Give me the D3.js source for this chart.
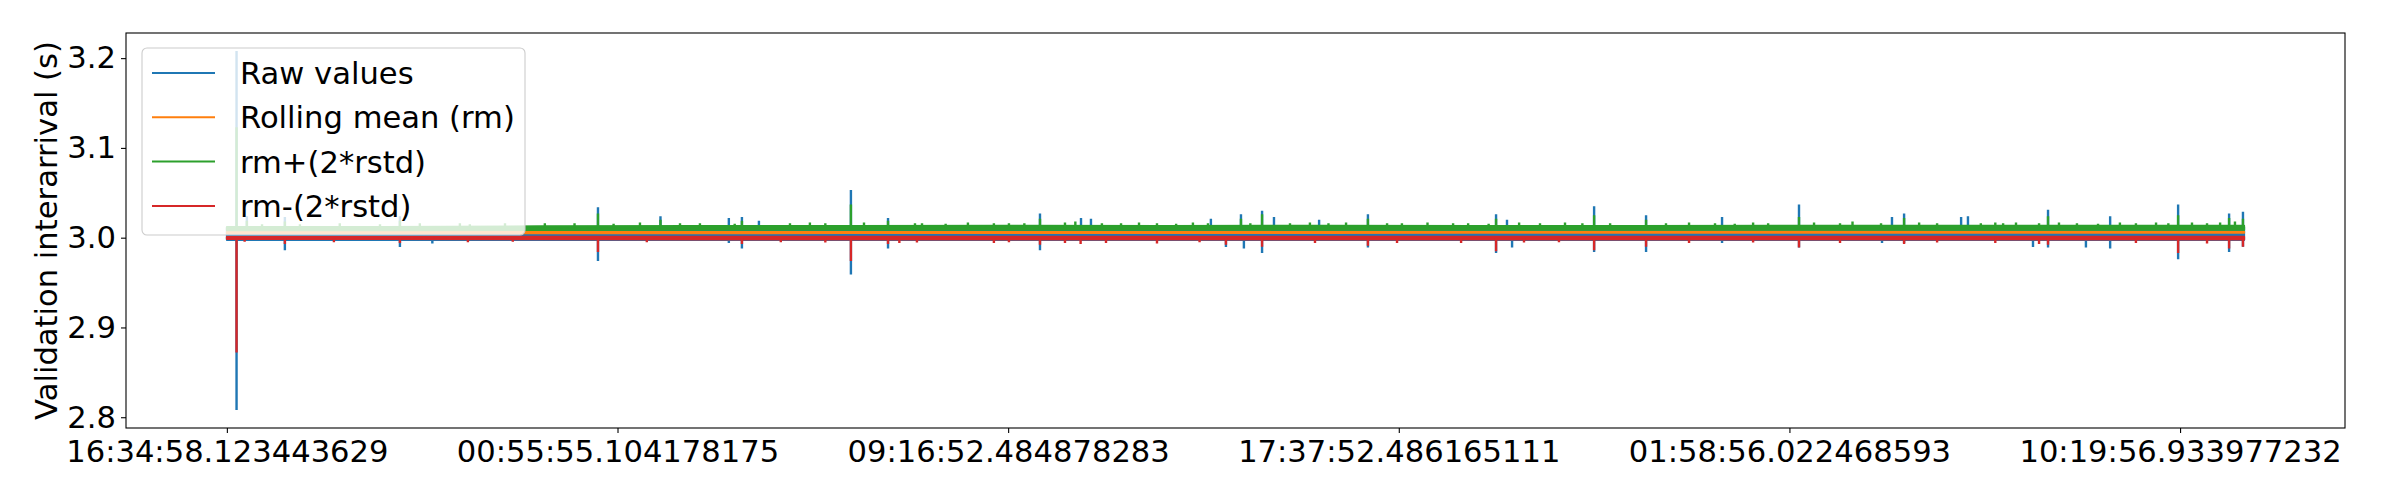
<!DOCTYPE html>
<html>
<head>
<meta charset="utf-8">
<script src="https://cdn.jsdelivr.net/npm/d3@7/dist/d3.min.js"></script>
<style>
body { margin: 0; background: #fff; }
text { font-family: "DejaVu Sans", sans-serif; fill: #000; }
</style>
</head>
<body>
<script>
// x ticks sit on sample index, labelled with the timestamp of that sample
var tickIdx = [0, 10000, 20000, 30000, 40000, 50000];
var tickLabels = ["16:34:58.123443629", "00:55:55.104178175", "09:16:52.484878283",
    "17:37:52.486165111", "01:58:56.022468593", "10:19:56.933977232"];
var yTicks = [2.8, 2.9, 3.0, 3.1, 3.2];
var lastIdx = 51640;

// envelope of each series, read every 4000 samples
var bandIdx = [0, 4000, 8000, 12000, 16000, 20000, 24000, 28000, 32000, 36000, 40000, 44000, 48000, 51640];
var rawLo = [2.9975, 2.9975, 2.9975, 2.9975, 2.9975, 2.9975, 2.9975, 2.9975, 2.9975, 2.9975, 2.9975, 2.9975, 2.9975, 2.9975];
var rawHi = [3.011, 3.011, 3.012, 3.012, 3.012, 3.012, 3.012, 3.012, 3.012, 3.012, 3.012, 3.012, 3.012, 3.012];
var rmLo = [3.0050, 3.0050, 3.0050, 3.0050, 3.0051, 3.0051, 3.0052, 3.0053, 3.0054, 3.0055, 3.0056, 3.0055, 3.0054, 3.0054];
var rmHi = [3.0062, 3.0062, 3.0062, 3.0063, 3.0063, 3.0063, 3.0064, 3.0065, 3.0066, 3.0067, 3.0068, 3.0067, 3.0066, 3.0066];
var upLo = [3.0082, 3.0082, 3.0086, 3.0088, 3.0088, 3.0088, 3.0088, 3.0088, 3.0088, 3.0088, 3.0088, 3.0088, 3.0088, 3.0088];
var upHi = [3.0118, 3.0120, 3.0126, 3.0130, 3.0131, 3.0132, 3.0131, 3.0132, 3.0131, 3.0131, 3.0132, 3.0132, 3.0132, 3.0132];
var lowLo = [2.9984, 2.9984, 2.9982, 2.9980, 2.9979, 2.9979, 2.9979, 2.9979, 2.9979, 2.9979, 2.9979, 2.9979, 2.9979, 2.9979];
var lowHi = [3.0008, 3.0008, 3.0010, 3.0010, 3.0010, 3.0010, 3.0010, 3.0010, 3.0010, 3.0010, 3.0010, 3.0010, 3.0010, 3.0010];

// spikes [sample index, value]
var rawUp = [[248, 3.208], [512, 3.024], [1485, 3.023], [4430, 3.024], [9500, 3.034], [11100, 3.024],
    [12850, 3.022], [13185, 3.023], [13620, 3.019], [15975, 3.053], [16925, 3.022], [20815, 3.027],
    [21865, 3.022], [22120, 3.021], [25190, 3.021], [25960, 3.026], [26500, 3.030], [26805, 3.023],
    [27960, 3.020], [29210, 3.026], [32490, 3.026], [32770, 3.020], [35000, 3.035], [36330, 3.025],
    [38275, 3.023], [40245, 3.037], [42625, 3.023], [42935, 3.027], [44395, 3.023], [44570, 3.024],
    [46620, 3.031], [48210, 3.024], [49950, 3.037], [51255, 3.027], [51610, 3.029]];
var rawDown = [[248, 2.808], [1485, 2.986], [4430, 2.9895], [5260, 2.9935], [9500, 2.974], [12850, 2.994],
    [13185, 2.988], [15975, 2.959], [16925, 2.988], [20815, 2.986], [25575, 2.9895], [26035, 2.988],
    [26500, 2.983], [29210, 2.989], [32490, 2.983], [32900, 2.989], [35000, 2.984], [36330, 2.984],
    [38275, 2.994], [40245, 2.989], [42370, 2.994], [42935, 2.994], [46235, 2.9895], [46620, 2.989],
    [47590, 2.989], [48210, 2.988], [49950, 2.976], [51255, 2.984], [51610, 2.990]];
var upSpikes = [[248, 3.123], [512, 3.019], [1485, 3.018], [4430, 3.019], [9500, 3.027], [11100, 3.020],
    [13185, 3.019], [15975, 3.037], [16925, 3.019], [20815, 3.021], [25960, 3.021], [26500, 3.026],
    [29210, 3.021], [32490, 3.021], [35000, 3.025], [36330, 3.020], [40245, 3.023], [42935, 3.022],
    [46620, 3.024], [49950, 3.025], [51255, 3.022], [51610, 3.021]];
var upBumps = [[900, 3.015], [1870, 3.015], [2890, 3.016], [3920, 3.015], [4940, 3.016], [5965, 3.016],
    [6220, 3.015], [7120, 3.016], [8140, 3.016], [8900, 3.016], [9900, 3.0155], [10575, 3.017],
    [11600, 3.016], [12110, 3.016], [13000, 3.0155], [14415, 3.016], [14925, 3.017], [15320, 3.016],
    [16310, 3.017], [17615, 3.016], [17795, 3.016], [18400, 3.0155], [18970, 3.017], [19635, 3.016],
    [20020, 3.016], [20415, 3.016], [21455, 3.017], [21720, 3.018], [22400, 3.016], [22890, 3.016],
    [23350, 3.017], [23810, 3.016], [24300, 3.0155], [24730, 3.017], [25115, 3.016], [26200, 3.016],
    [27215, 3.016], [27725, 3.017], [28200, 3.016], [28650, 3.017], [29700, 3.016], [30080, 3.016],
    [30735, 3.017], [31390, 3.016], [31775, 3.016], [32300, 3.0155], [33080, 3.017], [33615, 3.016],
    [34255, 3.017], [34700, 3.016], [35410, 3.016], [36840, 3.016], [37430, 3.017], [38095, 3.016],
    [38600, 3.0155], [39070, 3.017], [39455, 3.016], [40630, 3.017], [41295, 3.016], [41615, 3.018],
    [42345, 3.016], [43320, 3.017], [43780, 3.016], [44900, 3.016], [45270, 3.017], [45470, 3.016],
    [45800, 3.017], [46390, 3.016], [46900, 3.017], [47360, 3.016], [47900, 3.0155], [48460, 3.017],
    [48870, 3.016], [49385, 3.017], [49700, 3.016], [50305, 3.017], [50690, 3.016], [51025, 3.017],
    [51405, 3.018]];
var lowSpikes = [[248, 2.872], [1485, 2.993], [4430, 2.994], [9500, 2.984], [13185, 2.993], [15975, 2.974],
    [16925, 2.993], [20815, 2.992], [25575, 2.992], [26500, 2.990], [29210, 2.991], [32490, 2.985],
    [35000, 2.986], [36330, 2.990], [40245, 2.989], [46620, 2.992], [49950, 2.983], [51255, 2.988],
    [51610, 2.990]];
var lowDips = [[455, 2.9955], [2740, 2.995], [6170, 2.995], [7320, 2.9955], [10750, 2.995], [14180, 2.995],
    [15320, 2.9945], [17215, 2.994], [17665, 2.9945], [19635, 2.994], [20020, 2.995], [21455, 2.994],
    [21855, 2.993], [22505, 2.994], [23810, 2.9935], [24900, 2.995], [27855, 2.994], [29955, 2.994],
    [31595, 2.994], [33205, 2.9945], [34100, 2.995], [37430, 2.994], [39070, 2.9945], [41295, 2.994],
    [42935, 2.993], [43780, 2.9945], [45270, 2.994], [46390, 2.993], [48870, 2.994], [50690, 2.9935]];

var seriesNames = ["Raw values", "Rolling mean (rm)", "rm+(2*rstd)", "rm-(2*rstd)"];
var colors = ["#1f77b4", "#ff7f0e", "#2ca02c", "#d62728"];

var W = 2400, H = 500;
var margin = { left: 126, top: 33, right: 55, bottom: 72 };
var innerW = W - margin.left - margin.right;
var innerH = H - margin.top - margin.bottom;

var pad = lastIdx * 0.05;
var x = d3.scaleLinear().domain([-pad, lastIdx + pad]).range([0, innerW]);
var y = d3.scaleLinear().domain([2.788, 3.228]).range([innerH, 0]);

var svg = d3.select("body").append("svg").attr("width", W).attr("height", H);
var g = svg.append("g").attr("transform", "translate(" + margin.left + "," + margin.top + ")");

g.append("clipPath").attr("id", "clip").append("rect").attr("width", innerW).attr("height", innerH);
var plot = g.append("g").attr("clip-path", "url(#clip)");

function drawBand(lo, hi, color) {
    var area = d3.area().x(function (d, i) { return x(bandIdx[i]); })
        .y0(function (d, i) { return y(lo[i]); })
        .y1(function (d, i) { return y(hi[i]); });
    plot.append("path").attr("d", area(bandIdx)).attr("fill", color)
        .attr("stroke", color).attr("stroke-width", 2).attr("stroke-linejoin", "round");
}

function drawSpikes(list, base, color) {
    var d = list.map(function (s) {
        return "M" + x(s[0]) + "," + y(base) + "L" + x(s[0]) + "," + y(s[1]);
    }).join("");
    plot.append("path").attr("d", d).attr("fill", "none").attr("stroke", color).attr("stroke-width", 2.4);
}

// raw values
drawBand(rawLo, rawHi, colors[0]);
drawSpikes(rawUp, 3.006, colors[0]);
drawSpikes(rawDown, 3.000, colors[0]);
// rolling mean
drawBand(rmLo, rmHi, colors[1]);
// upper band
drawBand(upLo, upHi, colors[2]);
drawSpikes(upBumps, 3.011, colors[2]);
drawSpikes(upSpikes, 3.011, colors[2]);
// lower band
drawBand(lowLo, lowHi, colors[3]);
drawSpikes(lowDips, 2.999, colors[3]);
drawSpikes(lowSpikes, 2.999, colors[3]);

// axes
var xAxis = d3.axisBottom(x).tickValues(tickIdx).tickFormat(function (d, i) { return tickLabels[i]; })
    .tickSizeInner(5).tickSizeOuter(0).tickPadding(6);
var yAxis = d3.axisLeft(y).tickValues(yTicks).tickFormat(d3.format(".1f"))
    .tickSizeInner(5).tickSizeOuter(0).tickPadding(5);

var gx = g.append("g").attr("transform", "translate(0," + innerH + ")").call(xAxis);
var gy = g.append("g").call(yAxis);
[gx, gy].forEach(function (a) {
    a.select(".domain").remove();
    a.selectAll(".tick line").attr("stroke", "#000").attr("stroke-width", 1.1);
    a.selectAll(".tick text").attr("font-size", "30.6px").attr("font-family", "DejaVu Sans");
});
gx.selectAll(".tick text").attr("dy", "0.76em");

g.append("rect").attr("width", innerW).attr("height", innerH)
    .attr("fill", "none").attr("stroke", "#000").attr("stroke-width", 1.1);

svg.append("text").attr("transform", "translate(57," + (margin.top + innerH / 2) + ") rotate(-90)")
    .attr("text-anchor", "middle").attr("font-size", "30.6px").text("Validation interarrival (s)");

// legend
var legend = svg.append("g").attr("transform", "translate(142,48)");
legend.append("rect").attr("width", 383).attr("height", 187).attr("rx", 5)
    .attr("fill", "#fff").attr("fill-opacity", 0.8).attr("stroke", "#ccc").attr("stroke-width", 1.1);
seriesNames.forEach(function (name, i) {
    var ly = 25 + i * 44.3;
    legend.append("line").attr("x1", 10).attr("x2", 73).attr("y1", ly).attr("y2", ly)
        .attr("stroke", colors[i]).attr("stroke-width", 2);
    legend.append("text").attr("x", 98).attr("y", ly + 11).attr("font-size", "30.6px").text(name);
});
</script>
</body>
</html>
